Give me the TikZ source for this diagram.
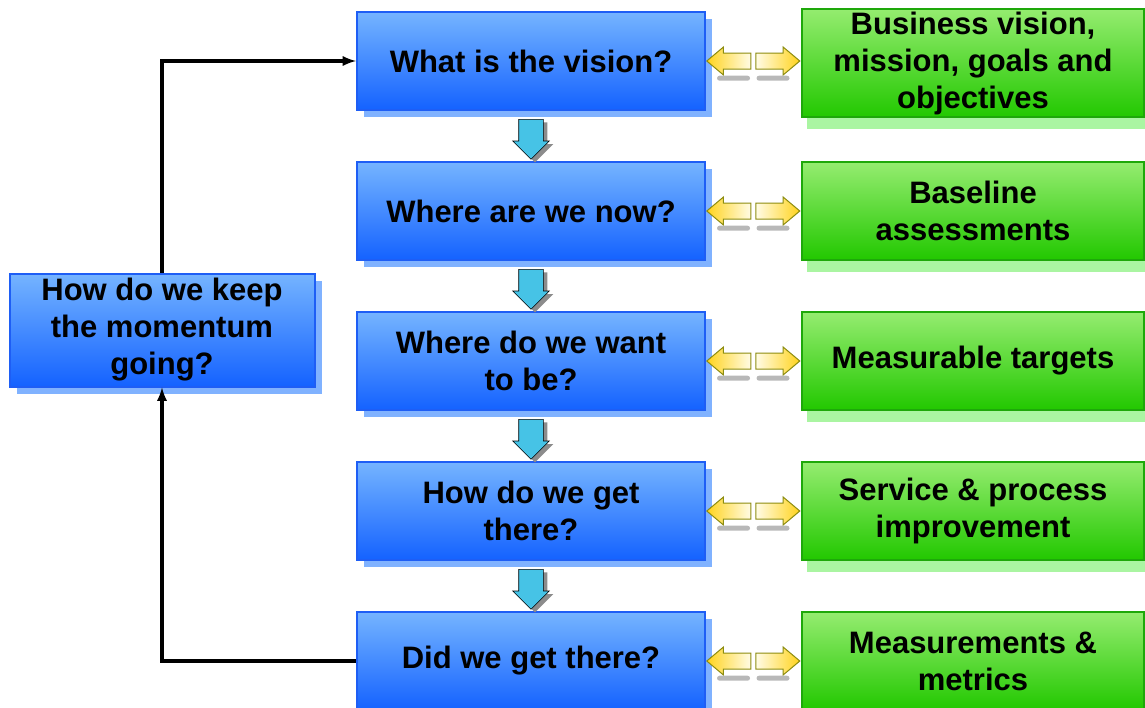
\documentclass[tikz,border=0pt]{standalone}
\usepackage{fontspec}
\setmainfont{Liberation Sans}
\usetikzlibrary{positioning,shapes.arrows,shadows}
\definecolor{qtop}{HTML}{75B4FF}
\definecolor{qmid}{HTML}{3D8EFF}
\definecolor{qbot}{HTML}{1462FF}
\definecolor{qedge}{HTML}{1E5EF5}
\definecolor{qshade}{HTML}{80B2FF}
\definecolor{atop}{HTML}{95EC70}
\definecolor{amid}{HTML}{52D82C}
\definecolor{abot}{HTML}{22C800}
\definecolor{aedge}{HTML}{1EA80A}
\definecolor{ashade}{HTML}{AAF5A2}
\definecolor{dfill}{HTML}{46C3E6}
\definecolor{ytip}{HTML}{FFD31C}
\definecolor{ytail}{HTML}{FFFCE6}
\definecolor{yedge}{HTML}{8C8C10}

\begin{document}
\begin{tikzpicture}[x=1pt, y=1pt,
  question/.style={rectangle, minimum width=348pt, minimum height=98pt, inner sep=0pt, align=center,
    font=\bfseries\fontsize{31}{37}\selectfont, top color=qtop, middle color=qmid, bottom color=qbot,
    draw=qedge, line width=2pt, drop shadow={shadow xshift=7pt, shadow yshift=-7pt, fill=qshade, opacity=1}},
  answer/.style={rectangle, minimum width=342pt, minimum height=98pt, inner sep=3pt, align=center,
    font=\bfseries\fontsize{31}{37}\selectfont, top color=atop, middle color=amid, bottom color=abot,
    draw=aedge, line width=2pt, drop shadow={shadow xshift=5pt, shadow yshift=-12pt, fill=ashade, opacity=1}},
  down/.style={single arrow, shape border rotate=270, minimum height=40pt, inner sep=12pt,
    single arrow head extend=6pt, fill=dfill, draw=black, line width=0.6pt,
    drop shadow={shadow xshift=4pt, shadow yshift=-3pt, fill=black!45, opacity=1}},
  pointer/.style={single arrow, minimum height=44pt, inner sep=7.5pt, single arrow head extend=6pt,
    single arrow tip angle=80, draw=yedge, line width=1pt},
  floor/.style={rectangle, rounded corners=2.5pt, fill=black!28, minimum width=33pt, minimum height=5pt, inner sep=0pt},
  link/.style={line width=3.5pt, -latex}
]
  \useasboundingbox (0,0) rectangle (1145,-707);

  \node[question] (Q1) at (531,-61) {What is the vision?};
  \node[question, below=50pt of Q1] (Q2) {Where are we now?};
  \node[question, below=50pt of Q2] (Q3) {Where do we want\\to be?};
  \node[question, below=50pt of Q3] (Q4) {How do we get\\there?};
  \node[question, below=50pt of Q4] (Q5) {Did we get there?};
  \node[question, minimum width=305pt, minimum height=113pt] (K) at (162,-330) {How do we keep\\the momentum\\going?};

  \node[down, below=8pt of Q1] (D1) {};
  \node[down, below=8pt of Q2] (D2) {};
  \node[down, below=8pt of Q3] (D3) {};
  \node[down, below=8pt of Q4] (D4) {};

  \node[pointer, shape border rotate=180, left color=ytip, right color=ytail, right=0pt of Q1] (L1) {};
  \node[pointer, left color=ytail, right color=ytip, right=4pt of L1] (R1) {};
  \node[pointer, shape border rotate=180, left color=ytip, right color=ytail, right=0pt of Q2] (L2) {};
  \node[pointer, left color=ytail, right color=ytip, right=4pt of L2] (R2) {};
  \node[pointer, shape border rotate=180, left color=ytip, right color=ytail, right=0pt of Q3] (L3) {};
  \node[pointer, left color=ytail, right color=ytip, right=4pt of L3] (R3) {};
  \node[pointer, shape border rotate=180, left color=ytip, right color=ytail, right=0pt of Q4] (L4) {};
  \node[pointer, left color=ytail, right color=ytip, right=4pt of L4] (R4) {};
  \node[pointer, shape border rotate=180, left color=ytip, right color=ytail, right=0pt of Q5] (L5) {};
  \node[pointer, left color=ytail, right color=ytip, right=4pt of L5] (R5) {};

  \node[floor, below=6pt of L1] {};
  \node[floor, below=6pt of R1] {};
  \node[floor, below=6pt of L2] {};
  \node[floor, below=6pt of R2] {};
  \node[floor, below=6pt of L3] {};
  \node[floor, below=6pt of R3] {};
  \node[floor, below=6pt of L4] {};
  \node[floor, below=6pt of R4] {};
  \node[floor, below=6pt of L5] {};
  \node[floor, below=6pt of R5] {};

  \node[answer, right=95pt of Q1, yshift=-2pt] (A1) {Business vision,\\mission, goals and\\objectives};
  \node[answer, right=95pt of Q2] (A2) {Baseline\\assessments};
  \node[answer, right=95pt of Q3] (A3) {Measurable targets};
  \node[answer, right=95pt of Q4] (A4) {Service \& process\\improvement};
  \node[answer, right=95pt of Q5] (A5) {Measurements \&\\metrics};

  \draw[link] (K.north) |- (Q1.west);
  \draw[link] (Q5.west) -| (K.south);
\end{tikzpicture}
\end{document}
